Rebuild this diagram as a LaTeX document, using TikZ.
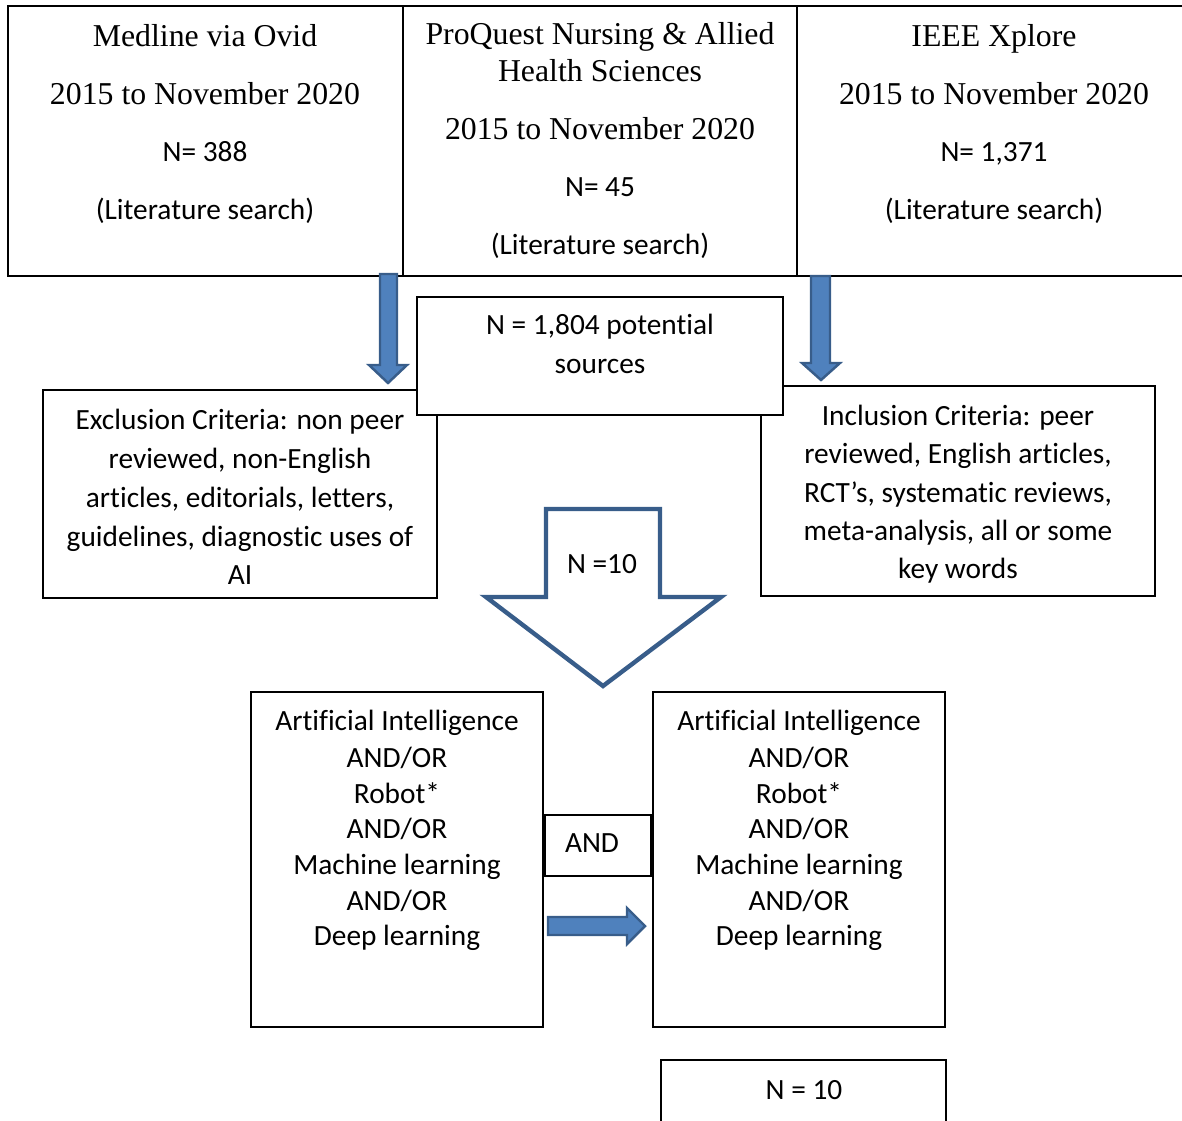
\documentclass[tikz,border=0pt]{standalone}
\usepackage{fontspec}
\setmainfont{Carlito}[Ligatures={TeX,NoCommon}]
\newfontfamily\tnrfont{Liberation Serif}
\definecolor{arrowfill}{HTML}{4F81BD}
\definecolor{arrowline}{HTML}{385D8A}
\begin{document}
\begin{tikzpicture}[x=0.02cm,y=-0.02cm,
  box/.style={draw,line width=1.1pt,fill=white,inner sep=0pt},
  tnr/.style={font=\tnrfont\fontsize{18.1}{21}\selectfont,anchor=base,inner sep=0pt},
  cal/.style={font=\fontsize{16.7}{20}\selectfont,anchor=base,inner sep=0pt},
  bluearrow/.style={fill=arrowfill,draw=arrowline,line width=1.4pt,line join=miter},
  hollowarrow/.style={fill=white,draw=arrowline,line width=2.5pt,line join=miter}]%
% coordinates are pixels of the source figure, y downwards
\useasboundingbox (0,0) rectangle (1182,1121);
\clip (0,0) rectangle (1182,1121);
\node[box,minimum width=7.9cm,minimum height=5.4cm] (medline) at (205.5,141) {};
\node[box,minimum width=7.88cm,minimum height=5.4cm] (proquest) at (600,141) {};
\node[box,minimum width=7.9cm,minimum height=5.4cm] (ieee) at (994.5,141) {};
\node[tnr] (med1) at (205,47) {Medline via Ovid};
\node[tnr] (med2) at (205,105) {2015 to November 2020};
\node[cal] (med3) at (205,162) {N= 388};
\node[cal] (med4) at (205,220) {(Literature search)};
\node[tnr] (pq1) at (600,45) {ProQuest Nursing \& Allied};
\node[tnr] (pq2) at (600,82) {Health Sciences};
\node[tnr] (pq3) at (600,140) {2015 to November 2020};
\node[cal] (pq4) at (600,197) {N= 45};
\node[cal] (pq5) at (600,255) {(Literature search)};
\node[tnr] (ie1) at (994,47) {IEEE Xplore};
\node[tnr] (ie2) at (994,105) {2015 to November 2020};
\node[cal] (ie3) at (994,162) {N= 1,371};
\node[cal] (ie4) at (994,220) {(Literature search)};
% down arrows from the searches
\filldraw[bluearrow] (380,274) -- (397,274) -- (397,365) -- (407,365)
  -- (388,383) -- (369,365) -- (380,365) -- cycle;
\filldraw[bluearrow] (811,276) -- (830,276) -- (830,363) -- (840,363)
  -- (821,380) -- (802,363) -- (811,363) -- cycle;
% criteria
\node[box,minimum width=7.88cm,minimum height=4.16cm] (exclusion) at (240,494) {};
\node[cal] (ex1) at (240,429) {Exclusion Criteria: non peer};
\node[cal] (ex2) at (240,468) {reviewed, non-English};
\node[cal] (ex3) at (240,507) {articles, editorials, letters,};
\node[cal] (ex4) at (240,546) {guidelines, diagnostic uses of};
\node[cal] (ex5) at (240,584) {AI};
\node[box,minimum width=7.88cm,minimum height=4.2cm] (inclusion) at (958,491) {};
\node[cal] (in1) at (958,425) {Inclusion Criteria: peer};
\node[cal] (in2) at (958,463) {reviewed, English articles,};
\node[cal] (in3) at (958,502) {RCT’s, systematic reviews,};
\node[cal] (in4) at (958,540) {meta-analysis, all or some};
\node[cal] (in5) at (958,578) {key words};
\node[box,minimum width=7.32cm,minimum height=2.36cm] (sources) at (600,356) {};
\node[cal] (src1) at (600,335) {N = 1,804 potential};
\node[cal] (src2) at (600,374) {sources};
% big hollow arrow
\filldraw[hollowarrow] (546,509) -- (660,509) -- (660,597) -- (721,597)
  -- (603,686) -- (486,597) -- (546,597) -- cycle;
\node[cal] (hollow) at (602,573) {N =10};
% search terms
\node[box,minimum width=5.84cm,minimum height=6.7cm] (aileft) at (397,859.5) {};
\node[cal] (al1) at (397,730) {Artificial Intelligence};
\node[cal] (al2) at (397,767) {AND/OR};
\node[cal] (al3) at (397,803) {Robot*};
\node[cal] (al4) at (397,838) {AND/OR};
\node[cal] (al5) at (397,874) {Machine learning};
\node[cal] (al6) at (397,910) {AND/OR};
\node[cal] (al7) at (397,945) {Deep learning};
\node[box,minimum width=5.84cm,minimum height=6.7cm] (airight) at (799,859.5) {};
\node[cal] (ar1) at (799,730) {Artificial Intelligence};
\node[cal] (ar2) at (799,767) {AND/OR};
\node[cal] (ar3) at (799,803) {Robot*};
\node[cal] (ar4) at (799,838) {AND/OR};
\node[cal] (ar5) at (799,874) {Machine learning};
\node[cal] (ar6) at (799,910) {AND/OR};
\node[cal] (ar7) at (799,945) {Deep learning};
\node[box,minimum width=2.12cm,minimum height=1.22cm] (andbox) at (598,845.5) {};
\node[cal] (and) at (592,852) {AND};
\filldraw[bluearrow] (548,917) -- (627,917) -- (627,908) -- (645,926)
  -- (627,944) -- (627,935) -- (548,935) -- cycle;
% result
\node[box,minimum width=5.7cm,minimum height=2cm] (result) at (803.5,1110) {};
\node[cal] (res) at (804,1099) {N = 10};
\end{tikzpicture}
\end{document}
